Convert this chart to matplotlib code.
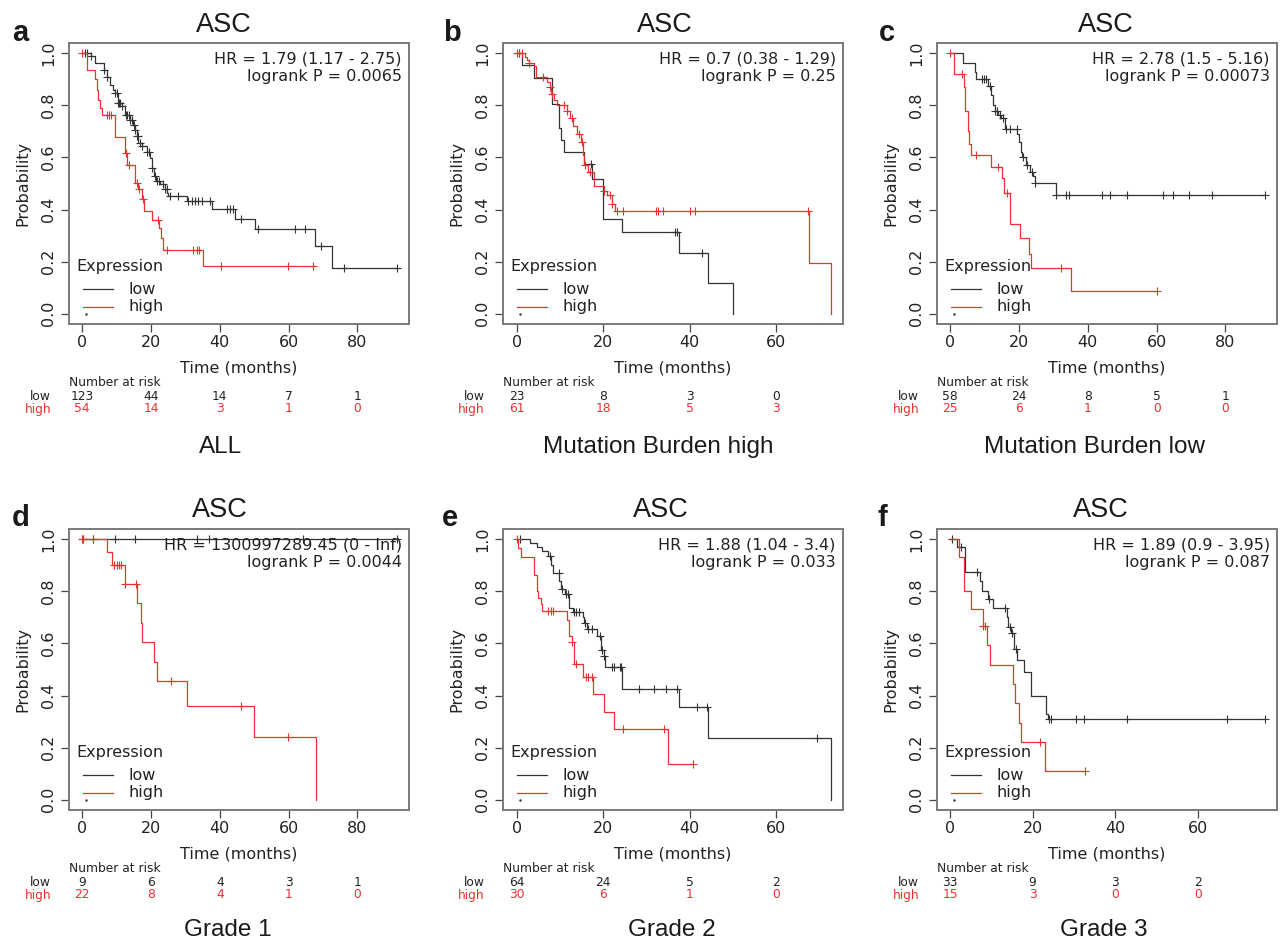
import numpy as np
import matplotlib.pyplot as plt

plt.rcParams['font.family'] = ['DejaVu Sans']

RED = '#ee3030'
BLK = '#333333'
FRAME = '#7a7a7a'

# ---------------- data ----------------
# a: ALL
a_low_t = [2.4, 3.8, 6.3, 7.1, 8.0, 9.0, 9.5, 10.5, 11.4, 12.4, 13.9, 14.6, 15.3, 15.8, 16.3, 17.3,
           18.7, 19.7, 20.2, 20.9, 21.4, 22.6, 24.1, 24.7, 25.0, 30.4, 37.6, 44.4, 50.2, 67.7, 72.7]
a_low_s = [0.991, 0.963, 0.937, 0.909, 0.880, 0.860, 0.848, 0.809, 0.796, 0.764, 0.745, 0.726, 0.707,
           0.681, 0.656, 0.643, 0.620, 0.598, 0.560, 0.527, 0.508, 0.499, 0.480, 0.463, 0.451, 0.431,
           0.402, 0.365, 0.325, 0.259, 0.174]
a_low_end = 91.5
a_low_cens = [0.8, 1.5, 2.5, 6.3, 7.3, 9.5, 10.0, 10.5, 10.8, 11.1, 11.4, 12.6, 13.1, 13.6, 13.9, 14.4,
              14.9, 15.3, 15.9, 16.1, 16.8, 17.5, 18.7, 19.5, 20.2, 21.1, 21.8, 22.4, 23.4, 24.1, 24.5,
              25.5, 27.9, 30.8, 31.8, 32.8, 33.7, 34.7, 37.1, 42.0, 43.0, 43.9, 46.1, 51.2, 61.9, 64.8,
              69.4, 76.1, 91.5]
a_high_t = [1.5, 3.7, 4.2, 4.7, 5.2, 5.7, 9.5, 12.4, 12.9, 15.3, 16.3, 17.3, 17.8, 20.2, 22.4, 22.9,
            23.4, 35.2]
a_high_s = [0.937, 0.90, 0.86, 0.82, 0.79, 0.765, 0.68, 0.617, 0.572, 0.50, 0.48, 0.44, 0.393, 0.36,
            0.33, 0.29, 0.243, 0.182]
a_high_end = 67.7
a_high_cens = [0.0, 7.3, 7.9, 8.2, 12.7, 13.7, 15.8, 16.6, 17.6, 22.1, 24.5, 32.3, 33.3, 34.0, 40.3,
               59.9, 67.2]

# b: Mutation Burden high
b_low_t = [1.2, 4.0, 8.1, 9.7, 10.2, 11.0, 15.6, 17.4, 19.9, 24.3, 37.5, 44.2, 50.0]
b_low_s = [0.957, 0.904, 0.807, 0.714, 0.666, 0.62, 0.574, 0.517, 0.364, 0.312, 0.233, 0.117, 0.0]
b_low_end = 50.0
b_low_cens = [0.6, 17.2, 36.7, 37.1, 42.9]
b_high_t = [1.9, 2.3, 2.9, 3.9, 4.5, 7.1, 7.6, 7.9, 8.6, 9.4, 11.7, 12.4, 13.1, 13.9, 14.8, 15.4, 15.6,
            16.6, 17.8, 20.1, 20.8, 22.0, 22.8, 67.6, 72.8]
b_high_s = [0.987, 0.975, 0.962, 0.95, 0.91, 0.89, 0.87, 0.845, 0.82, 0.80, 0.78, 0.75, 0.72, 0.69,
            0.66, 0.61, 0.57, 0.545, 0.49, 0.47, 0.455, 0.42, 0.395, 0.196, 0.0]
b_high_end = 72.8
b_high_cens = [0.0, 0.5, 1.2, 2.9, 6.2, 7.6, 8.2, 11.0, 11.7, 12.9, 14.5, 15.2, 15.9, 17.0, 20.3, 21.6,
               22.0, 23.2, 24.6, 32.2, 32.6, 33.8, 40.0, 41.3, 67.3]

# c: Mutation Burden low
c_low_t = [3.7, 7.1, 7.6, 11.0, 11.9, 12.4, 12.9, 13.9, 14.8, 15.8, 19.5, 20.0, 20.5, 20.9, 22.1, 23.1,
           24.0, 24.5, 30.6]
c_low_s = [0.963, 0.93, 0.90, 0.875, 0.84, 0.80, 0.78, 0.765, 0.75, 0.71, 0.69, 0.66, 0.62, 0.60, 0.57,
           0.545, 0.53, 0.50, 0.455]
c_low_end = 91.5
c_low_cens = [9.2, 9.8, 10.5, 11.4, 12.9, 13.7, 14.4, 15.3, 16.3, 17.3, 19.3, 21.1, 22.4, 23.8, 24.5,
              30.8, 33.5, 34.5, 44.2, 46.4, 51.5, 61.9, 64.8, 69.4, 76.2, 91.5]
c_high_t = [1.0, 3.9, 4.4, 5.0, 5.4, 6.1, 11.7, 15.1, 15.6, 17.3, 20.2, 22.8, 23.4, 35.2]
c_high_s = [0.92, 0.87, 0.78, 0.70, 0.65, 0.61, 0.565, 0.52, 0.465, 0.345, 0.29, 0.23, 0.175, 0.088]
c_high_end = 60.1
c_high_cens = [0.0, 3.4, 7.4, 13.9, 16.6, 32.3, 60.1]

# d: Grade 1
d_low_t = []
d_low_s = []
d_low_end = 91.5
d_low_cens = [0.3, 3.2, 9.5, 15.3, 33.3, 36.7, 64.3, 91.5]
d_high_t = [7.1, 8.7, 12.4, 15.8, 16.97, 17.3, 20.9, 21.8, 30.4, 50.0, 67.9]
d_high_s = [0.95, 0.90, 0.83, 0.755, 0.68, 0.605, 0.53, 0.455, 0.36, 0.24, 0.0]
d_high_end = 67.9
d_high_cens = [0.0, 0.1, 3.0, 9.2, 10.0, 10.8, 11.2, 12.4, 15.6, 25.7, 46.1, 59.9]

# e: Grade 2
e_low_t = [3.1, 4.8, 5.8, 7.3, 7.9, 8.3, 9.9, 10.2, 11.2, 12.0, 12.2, 13.1, 15.3, 15.6, 16.2, 18.5,
           19.5, 20.1, 20.5, 24.3, 37.5, 44.2, 72.8]
e_low_s = [0.985, 0.97, 0.955, 0.935, 0.90, 0.87, 0.84, 0.81, 0.79, 0.76, 0.735, 0.72, 0.70, 0.68,
           0.655, 0.63, 0.575, 0.55, 0.51, 0.425, 0.355, 0.237, 0.0]
e_low_end = 72.8
e_low_cens = [0.8, 7.6, 9.7, 10.4, 11.4, 11.8, 13.3, 13.7, 14.3, 15.8, 16.4, 17.4, 19.3, 19.8, 20.2,
              22.0, 22.4, 23.8, 24.1, 28.2, 31.7, 34.5, 37.2, 41.7, 44.0, 69.5]
e_high_t = [0.4, 0.9, 4.0, 4.6, 5.0, 5.6, 5.8, 11.6, 12.2, 12.7, 13.3, 15.3, 17.6, 20.1, 22.6, 35.1]
e_high_s = [0.967, 0.933, 0.865, 0.80, 0.775, 0.75, 0.725, 0.69, 0.63, 0.605, 0.52, 0.47, 0.405, 0.335,
            0.27, 0.135]
e_high_end = 40.7
e_high_cens = [0.15, 7.3, 7.9, 8.3, 12.8, 13.7, 16.1, 16.6, 17.4, 24.6, 34.0, 40.7]

# f: Grade 3
f_low_t = [1.6, 3.6, 7.3, 7.7, 9.1, 10.3, 13.7, 14.1, 14.8, 15.4, 16.2, 17.9, 19.6, 23.3, 23.7]
f_low_s = [0.97, 0.875, 0.84, 0.80, 0.77, 0.735, 0.70, 0.665, 0.64, 0.58, 0.535, 0.49, 0.40, 0.33, 0.31]
f_low_end = 76.2
f_low_cens = [0.4, 2.7, 6.5, 9.5, 13.2, 14.6, 15.0, 16.0, 23.9, 24.5, 30.5, 32.4, 42.9, 67.1, 76.2]
f_high_t = [2.1, 3.3, 3.5, 5.1, 7.9, 9.0, 9.8, 15.2, 15.8, 16.8, 17.2, 23.1]
f_high_s = [0.933, 0.867, 0.80, 0.733, 0.667, 0.593, 0.518, 0.444, 0.37, 0.296, 0.222, 0.111]
f_high_end = 32.6
f_high_cens = [8.1, 8.4, 21.9, 32.6]

# number at risk
a_nar_x = [0, 20, 40, 60, 80]; a_nar_low = [123, 44, 14, 7, 1]; a_nar_high = [54, 14, 3, 1, 0]
b_nar_x = [0, 20, 40, 60];     b_nar_low = [23, 8, 3, 0];       b_nar_high = [61, 18, 5, 3]
c_nar_x = [0, 20, 40, 60, 80]; c_nar_low = [58, 24, 8, 5, 1];   c_nar_high = [25, 6, 1, 0, 0]
d_nar_x = [0, 20, 40, 60, 80]; d_nar_low = [9, 6, 4, 3, 1];     d_nar_high = [22, 8, 4, 1, 0]
e_nar_x = [0, 20, 40, 60];     e_nar_low = [64, 24, 5, 2];      e_nar_high = [30, 6, 1, 0]
f_nar_x = [0, 20, 40, 60];     f_nar_low = [33, 9, 3, 2];       f_nar_high = [15, 3, 0, 0]

hr_text = ["HR = 1.79 (1.17 - 2.75)\nlogrank P = 0.0065",
           "HR = 0.7 (0.38 - 1.29)\nlogrank P = 0.25",
           "HR = 2.78 (1.5 - 5.16)\nlogrank P = 0.00073",
           "HR = 1300997289.45 (0 - Inf)\nlogrank P = 0.0044",
           "HR = 1.88 (1.04 - 3.4)\nlogrank P = 0.033",
           "HR = 1.89 (0.9 - 3.95)\nlogrank P = 0.087"]
subtitles = ["ALL", "Mutation Burden high", "Mutation Burden low", "Grade 1", "Grade 2", "Grade 3"]
letters = ["a", "b", "c", "d", "e", "f"]

# ---------------- figure ----------------
W, H = 1288, 940
AW, AH = 340, 281
fig = plt.figure(figsize=(W / 100, H / 100), dpi=100)


def km(ax, t, s, end, cens, color):
    tt = np.concatenate([[0.0], t, [end]])
    ss = np.concatenate([[1.0], s, [s[-1] if len(s) else 1.0]])
    ax.step(tt, ss, where='post', color=color, lw=0.9)
    ev_t = np.concatenate([[0.0], t])
    ev_s = np.concatenate([[1.0], s])
    idx = np.searchsorted(ev_t, cens, side='right') - 1
    ax.plot(cens, ev_s[idx], ls='none', marker='+', ms=6, mew=0.8, color=color)


panels = [
    (a_low_t, a_low_s, a_low_end, a_low_cens, a_high_t, a_high_s, a_high_end, a_high_cens,
     a_nar_x, a_nar_low, a_nar_high, (-3.87, 95.0)),
    (b_low_t, b_low_s, b_low_end, b_low_cens, b_high_t, b_high_s, b_high_end, b_high_cens,
     b_nar_x, b_nar_low, b_nar_high, (-3.17, 75.5)),
    (c_low_t, c_low_s, c_low_end, c_low_cens, c_high_t, c_high_s, c_high_end, c_high_cens,
     c_nar_x, c_nar_low, c_nar_high, (-3.87, 95.0)),
    (d_low_t, d_low_s, d_low_end, d_low_cens, d_high_t, d_high_s, d_high_end, d_high_cens,
     d_nar_x, d_nar_low, d_nar_high, (-3.87, 95.0)),
    (e_low_t, e_low_s, e_low_end, e_low_cens, e_high_t, e_high_s, e_high_end, e_high_cens,
     e_nar_x, e_nar_low, e_nar_high, (-3.17, 75.5)),
    (f_low_t, f_low_s, f_low_end, f_low_cens, f_high_t, f_high_s, f_high_end, f_high_cens,
     f_nar_x, f_nar_low, f_nar_high, (-3.15, 79.2)),
]

ax_left = [69, 503, 937]
ax_top = [43, 529]
title_x = [224, 665, 1106, 220, 661, 1101]
sub_x = [221, 658, 1095, 228, 672, 1104]
letter_x = [12, 443, 879, 12, 442, 878]
title_base = [32, 517]
letter_base = [41, 526]
sub_base = [453, 936]
NAR_FS = 8.8

for i, p in enumerate(panels):
    (lt, ls_, lend, lc, ht, hs, hend, hc, nx, nlow, nhigh, xl) = p
    row, col = divmod(i, 3)
    L, T = ax_left[col], ax_top[row]
    ax = fig.add_axes([L / W, 1 - (T + AH) / H, AW / W, AH / H])

    km(ax, lt, ls_, lend, lc, BLK)
    km(ax, ht, hs, hend, hc, RED)

    ax.set_xlim(*xl)
    ax.set_ylim(-0.04, 1.04)
    ax.set_xticks([x for x in [0, 20, 40, 60, 80] if x < xl[1]])
    ax.set_yticks([0, 0.2, 0.4, 0.6, 0.8, 1.0])
    ax.set_yticklabels(["0.0", "0.2", "0.4", "0.6", "0.8", "1.0"], rotation=90, va='center')
    ax.tick_params(axis='both', labelsize=11.5, length=6, width=0.9, color='#444444', labelcolor='#222222')
    ax.tick_params(axis='x', pad=2)
    ax.tick_params(axis='y', pad=3)
    for sp in ax.spines.values():
        sp.set_color(FRAME)
        sp.set_linewidth(1.4)

    ax.set_xlabel("Time (months)", fontsize=11.5, color='#222222')
    ax.xaxis.set_label_coords(0.5, -44 / AH)
    ax.xaxis.label.set_va('center')
    ax.set_ylabel("Probability", fontsize=11.5, color='#222222')
    ax.yaxis.set_label_coords(-46 / AW, 0.5)
    ax.yaxis.label.set_va('center')

    # HR / logrank text
    ax.text(1 - 7.3 / AW, 1 - 9 / AH, hr_text[i], transform=ax.transAxes, ha='right', va='top',
            fontsize=11.5, color='#222222', linespacing=1.2)

    # legend drawn as in the R output
    ax.text(7.7 / AW, 57 / AH, "Expression", transform=ax.transAxes, ha='left', va='center',
            fontsize=11.5, color='#222222')
    ax.plot([14 / AW, 44 / AW], [35 / AH, 35 / AH], transform=ax.transAxes, color=BLK, lw=0.9)
    ax.plot([14 / AW, 44 / AW], [17 / AH, 17 / AH], transform=ax.transAxes, color=RED, lw=0.9)
    ax.text(59 / AW, 35 / AH, "low", transform=ax.transAxes, ha='left', va='center',
            fontsize=11.5, color='#222222')
    ax.text(59 / AW, 17 / AH, "high", transform=ax.transAxes, ha='left', va='center',
            fontsize=11.5, color='#222222')
    ax.plot([17 / AW], [10 / AH], transform=ax.transAxes, marker='.', ms=1.5, color=BLK)

    # number at risk table
    tr = ax.get_xaxis_transform()
    ax.text(0, -59 / AH, "Number at risk", transform=ax.transAxes, ha='left', va='center',
            fontsize=NAR_FS, color='#222222')
    ax.text(-18 / AW, -72 / AH, "low", transform=ax.transAxes, ha='right', va='center',
            fontsize=NAR_FS, color='#222222')
    ax.text(-18 / AW, -85 / AH, "high", transform=ax.transAxes, ha='right', va='center',
            fontsize=NAR_FS, color=RED)
    for x, nl, nh in zip(nx, nlow, nhigh):
        ax.text(x, -72 / AH, str(nl), transform=tr, ha='center', va='center', fontsize=NAR_FS, color='#222222')
        ax.text(x, -85 / AH, str(nh), transform=tr, ha='center', va='center', fontsize=NAR_FS, color=RED)

    # panel title, letter and subtitle
    fig.text(title_x[i] / W, 1 - title_base[row] / H, "ASC", ha='center', va='baseline',
             fontsize=19.5, family='Liberation Sans', color='#1a1a1a')
    fig.text(letter_x[i] / W, 1 - letter_base[row] / H, letters[i], ha='left', va='baseline',
             fontsize=21, fontweight='bold', family='Liberation Sans', color='#1a1a1a')
    fig.text(sub_x[i] / W, 1 - sub_base[row] / H, subtitles[i], ha='center', va='baseline',
             fontsize=17.5, family='Liberation Sans', color='#1a1a1a')

fig.savefig("out.png", dpi=100)
